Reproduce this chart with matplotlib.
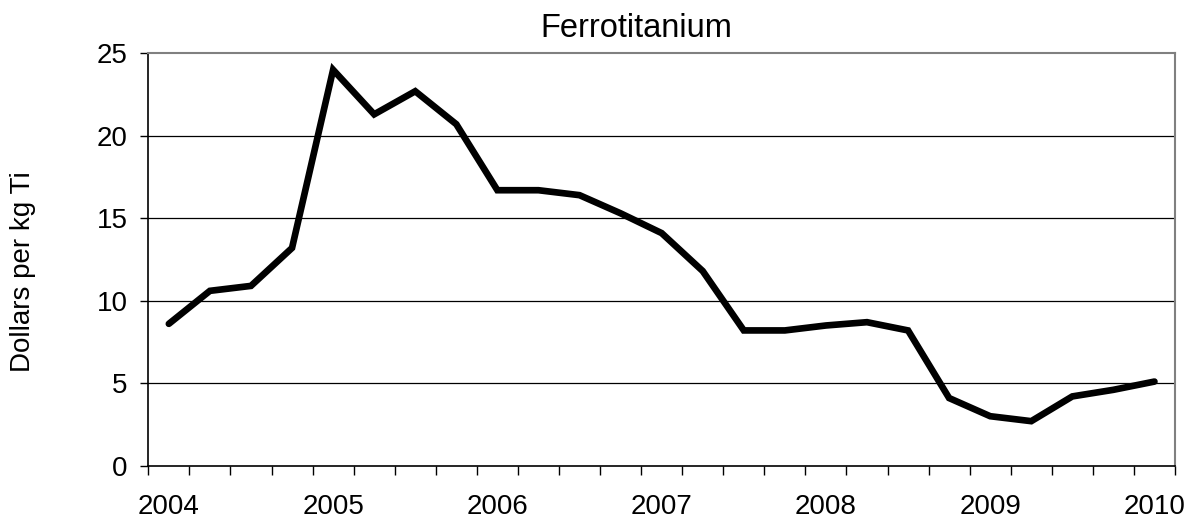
import matplotlib
matplotlib.use("Agg")
import matplotlib.pyplot as plt
import numpy as np

# Quarterly ferrotitanium price, 2004 Q1 .. 2010 Q1
values = [8.6, 10.6, 10.9, 13.2, 24.0, 21.3, 22.7, 20.7, 16.7, 16.7, 16.4,
          15.3, 14.1, 11.8, 8.2, 8.2, 8.5, 8.7, 8.2, 4.1, 3.0, 2.7, 4.2, 4.6, 5.1]
year_labels = ["2004", "2005", "2006", "2007", "2008", "2009", "2010"]
y_ticks = [0, 5, 10, 15, 20, 25]
title = "Ferrotitanium"
ylabel = "Dollars per kg Ti"

plt.rcParams['font.family'] = ['Liberation Sans', 'DejaVu Sans']

fig = plt.figure(figsize=(11.94, 5.22), dpi=100)
ax = fig.add_axes([148.3 / 1194, 1 - 465.7 / 522, (1175 - 148.3) / 1194, (465.7 - 53.3) / 522])

n = len(values)
x = np.arange(n)
ax.plot(x, values, color='black', lw=4.8, solid_joinstyle='miter', solid_capstyle='round', zorder=3)

ax.set_xlim(-0.5, n - 0.5)
ax.set_ylim(0, 25)

# y axis
ax.set_yticks(y_ticks)
ax.set_yticklabels([str(v) for v in y_ticks], fontsize=20)
ax.tick_params(axis='y', direction='out', length=6, width=1, pad=9, color='black')
for v in y_ticks[1:-1]:
    ax.axhline(v, color='black', lw=0.9, zorder=1)

# x axis: ticks between categories, labels every 4 categories
ax.set_xticks(np.arange(-0.5, n, 1))
ax.set_xticklabels([])
ax.tick_params(axis='x', which='major', direction='out', length=6.5, width=1, color='black')
label_pos = [i * 4 for i in range(len(year_labels))]
ax.set_xticks(label_pos, minor=True)
ax.set_xticklabels(year_labels, minor=True, fontsize=20)
ax.tick_params(axis='x', which='minor', length=0, pad=20.5)

for s in ['left', 'bottom']:
    ax.spines[s].set_color('black')
    ax.spines[s].set_linewidth(1.2)
for s in ['top', 'right']:
    ax.spines[s].set_color('#808080')
    ax.spines[s].set_linewidth(1.5)

fig.text(636 / 1194, 1 - 37 / 522, title, fontsize=23.5, ha='center', va='baseline')
fig.text(23 / 1194, 1 - 272 / 522, ylabel, rotation=90, fontsize=20, ha='center', va='center')

fig.savefig("out.png", dpi=100)
